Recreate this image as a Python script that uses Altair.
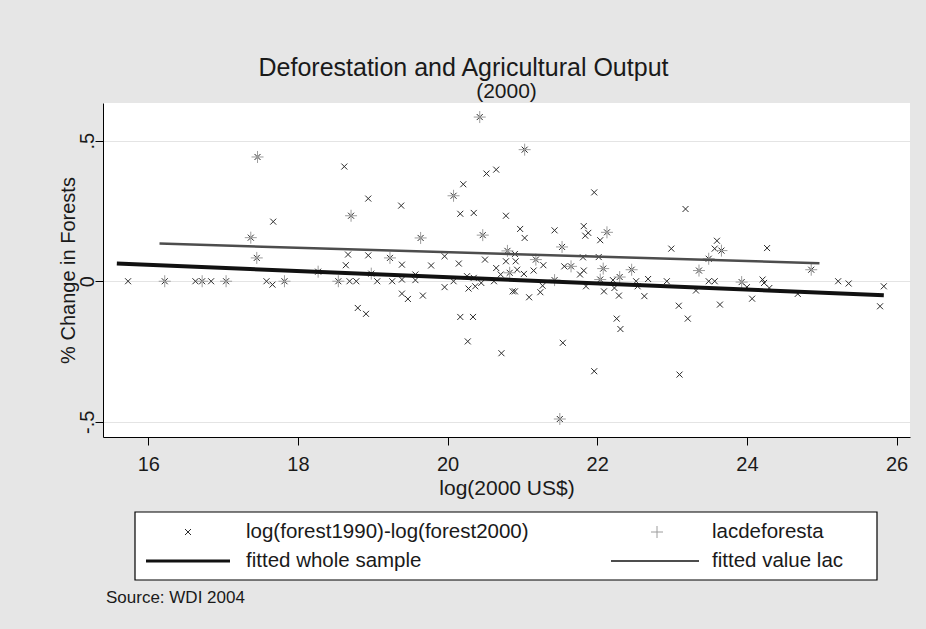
import altair as alt
import pandas as pd

# ---- data ----
all_x = [15.73, 16.22, 16.63, 16.72, 16.84, 17.04, 17.46, 17.67, 17.37, 17.45, 17.58, 17.66, 17.82,
         18.27, 18.54, 18.69, 18.78, 18.62, 18.94, 19.38, 18.71, 19.64, 20.08, 20.21, 20.52, 20.65,
         20.17, 20.35, 20.78, 20.47, 20.43, 18.67, 18.94, 18.64, 19.23, 19.39, 19.78, 19.96, 20.15,
         20.50, 20.65, 20.78, 20.80, 20.83, 20.71, 18.98, 19.06, 19.26, 19.39, 19.57, 19.57, 19.96,
         20.08, 20.26, 20.35, 20.28, 20.37, 20.45, 20.62, 20.87, 19.39, 19.47, 19.67, 18.80, 18.91,
         20.17, 20.34, 20.27, 20.72, 20.90,
         21.03, 21.96, 23.18, 20.97, 21.03, 21.43, 21.82, 21.88, 21.84, 22.04, 22.13, 21.53, 22.99,
         20.91, 21.18, 21.28, 20.93, 21.02, 21.15, 21.56, 21.65, 21.82, 21.77, 22.08, 22.46, 22.30,
         22.68, 22.04, 21.43, 22.21, 22.52, 22.93, 23.36, 23.49, 21.27, 21.85, 22.23, 22.54, 20.90,
         21.09, 21.24, 22.09, 22.29, 22.63, 23.32, 23.09, 23.21, 22.26, 22.31, 21.54, 21.96, 23.10,
         21.50, 21.81, 22.02,
         23.60, 23.57, 23.66, 23.49, 24.27, 24.86, 23.57, 23.93, 24.00, 24.21, 24.23, 24.30, 24.68,
         24.07, 23.64, 25.22, 25.36, 25.83, 25.78]
all_y = [0.000, 0.000, 0.000, 0.000, 0.000, 0.000, 0.442, 0.212, 0.155, 0.083, 0.000, -0.012, 0.000,
         0.034, 0.000, 0.000, 0.000, 0.408, 0.294, 0.269, 0.233, 0.154, 0.304, 0.345, 0.383, 0.397,
         0.240, 0.243, 0.233, 0.164, 0.584, 0.095, 0.092, 0.057, 0.083, 0.059, 0.056, 0.089, 0.063,
         0.077, 0.047, 0.071, 0.108, 0.030, 0.024, 0.027, 0.000, 0.000, 0.006, 0.024, 0.004, -0.021,
         0.000, 0.018, 0.012, -0.026, -0.018, -0.006, 0.000, -0.036, -0.044, -0.063, -0.051, -0.095, -0.116,
         -0.127, -0.127, -0.214, -0.256, 0.097,
         0.468, 0.316, 0.257, 0.186, 0.154, 0.181, 0.196, 0.172, 0.162, 0.146, 0.174, 0.122, 0.116,
         0.071, 0.077, 0.057, 0.041, 0.026, 0.038, 0.053, 0.053, 0.038, 0.024, 0.045, 0.041, 0.015,
         0.008, 0.006, 0.004, 0.004, 0.000, 0.000, 0.038, 0.000, -0.016, -0.018, -0.024, -0.018, -0.036,
         -0.057, -0.039, -0.036, -0.051, -0.053, -0.033, -0.087, -0.133, -0.133, -0.170, -0.219, -0.320, -0.332,
         -0.490, 0.085, 0.086,
         0.144, 0.116, 0.109, 0.080, 0.118, 0.041, 0.000, -0.003, -0.021, 0.006, -0.006, -0.024, -0.045,
         -0.062, -0.083, 0.000, -0.008, -0.018, -0.089]

lac_x = [16.22, 16.72, 17.04, 17.46, 17.37, 17.45, 17.82, 18.27, 18.54, 18.71, 19.64, 20.08, 20.47,
         20.43, 19.23, 20.80, 20.83, 18.98, 21.03, 22.13, 21.53, 21.18, 21.65, 22.08, 22.46, 22.30,
         22.04, 21.43, 23.36, 21.50, 23.66, 23.49, 24.86, 23.93]
lac_y = [0.000, 0.000, 0.000, 0.442, 0.155, 0.083, 0.000, 0.034, 0.000, 0.233, 0.154, 0.304, 0.164,
         0.584, 0.083, 0.108, 0.030, 0.027, 0.468, 0.174, 0.122, 0.077, 0.053, 0.045, 0.041, 0.015,
         0.006, 0.004, 0.038, -0.490, 0.109, 0.080, 0.041, -0.003]

fit_x = [15.58, 25.83]
fit_y = [0.063, -0.050]
lac_fit_x = [16.15, 24.97]
lac_fit_y = [0.134, 0.064]

x_ticks = [16, 18, 20, 22, 24, 26]
y_ticks = [-0.5, 0, 0.5]
y_tick_labels = ["-.5", "0", ".5"]
legend_labels = ["log(forest1990)-log(forest2000)", "lacdeforesta",
                 "fitted whole sample", "fitted value lac"]
title_text = "Deforestation and Agricultural Output"
subtitle_text = "(2000)"
note_text = "Source: WDI 2004"

FONT = "Liberation Sans, Arial, sans-serif"
TXT = "#1a1a1a"
XPATH = "M-1,-1L1,1M-1,1L1,-1"
PLUS = "M-1,0L1,0M0,-1L0,1"

df_all = pd.DataFrame({"x": all_x, "y": all_y})
df_lac = pd.DataFrame({"x": lac_x, "y": lac_y})
df_fit = pd.DataFrame({"x": fit_x, "y": fit_y})
df_lfit = pd.DataFrame({"x": lac_fit_x, "y": lac_fit_y})
one = pd.DataFrame({"a": [0]})

label_expr = " : ".join(
    [f"datum.value == {v} ? '{l}'" for v, l in zip(y_ticks, y_tick_labels)]) + " : ''"

xs = alt.Scale(domain=[15.395, 26.18], nice=False, zero=False)
ys = alt.Scale(domain=[-0.554, 0.634], nice=False, zero=False)

xaxis = alt.Axis(values=x_ticks, format="d", grid=False, title="log(2000 US$)",
                 domainColor="black", tickColor="black", tickSize=8, labelFlush=False,
                 labelFontSize=20, labelFont=FONT, labelColor=TXT,
                 labelBaseline="alphabetic", labelPadding=25,
                 titleFont=FONT, titleFontSize=21, titleFontWeight="normal", titleColor=TXT,
                 titleBaseline="alphabetic", titleY=57)
yaxis = alt.Axis(values=y_ticks, labelExpr=label_expr, grid=True, gridColor="#e4e4e4", gridWidth=1,
                 title="% Change in Forests", domainColor="black", tickColor="black", tickSize=8,
                 labelFlush=False, labelAngle=270, labelAlign="center", labelBaseline="alphabetic",
                 labelPadding=2, labelFontSize=20, labelFont=FONT, labelColor=TXT,
                 titleFont=FONT, titleFontSize=20, titleFontWeight="normal", titleColor=TXT,
                 titleAngle=270, titleAlign="center", titleBaseline="alphabetic", titleX=-29, titleY=167)

pts = alt.Chart(df_all).mark_point(shape=XPATH, filled=False, size=36, strokeWidth=1,
                                   color="#2b2b2b", opacity=1).encode(
    x=alt.X("x:Q", scale=xs, axis=xaxis), y=alt.Y("y:Q", scale=ys, axis=yaxis))
lac = alt.Chart(df_lac).mark_point(shape=PLUS, filled=False, size=144, strokeWidth=1,
                                   color="#9c9c9c", opacity=1).encode(x="x:Q", y="y:Q")
fit = alt.Chart(df_fit).mark_line(color="#111111", strokeWidth=4).encode(x="x:Q", y="y:Q")
lfit = alt.Chart(df_lfit).mark_line(color="#4d4d4d", strokeWidth=2.5).encode(x="x:Q", y="y:Q")

# legend box (below the plot)
box = alt.Chart(one).mark_rect(fill="white", stroke="black", strokeWidth=1.2).encode(
    x=alt.value(32), x2=alt.value(774), y=alt.value(409), y2=alt.value(477))
leg_x = alt.Chart(one).mark_point(shape=XPATH, filled=False, size=36, strokeWidth=1,
                                  color="#2b2b2b", opacity=1).encode(x=alt.value(85), y=alt.value(429))
leg_p = alt.Chart(one).mark_point(shape=PLUS, filled=False, size=144, strokeWidth=1,
                                  color="#9c9c9c", opacity=1).encode(x=alt.value(554), y=alt.value(429))
leg_l1 = alt.Chart(one).mark_rule(color="#111111", strokeWidth=3).encode(
    x=alt.value(43), x2=alt.value(127), y=alt.value(458))
leg_l2 = alt.Chart(one).mark_rule(color="#4d4d4d", strokeWidth=2).encode(
    x=alt.value(508), x2=alt.value(596), y=alt.value(458))


def txt(s, x, y, size=20.5, align="left"):
    return alt.Chart(one).mark_text(align=align, baseline="middle", font=FONT, fontSize=size,
                                    color=TXT).encode(
        x=alt.value(x), y=alt.value(y), text=alt.value(s))


texts = [txt(legend_labels[0], 143, 429), txt(legend_labels[1], 609, 429),
         txt(legend_labels[2], 143, 458), txt(legend_labels[3], 609, 458),
         txt(note_text, 3, 495, 17),
         txt(title_text, 360.5, -35, 25, "center"),
         txt(subtitle_text, 403.5, -11, 21, "center")]

chart = alt.layer(pts, lac, fit, lfit, box, leg_x, leg_p, leg_l1, leg_l2, *texts).properties(
    width=807, height=334,
    autosize=alt.AutoSizeParams(type="none"),
    padding={"left": 103, "top": 103, "right": 16, "bottom": 192},
    background="#e6e6e6",
).configure_view(fill="white", strokeWidth=0)

chart.save("out.html", embed_options={"renderer": "svg", "actions": False})
